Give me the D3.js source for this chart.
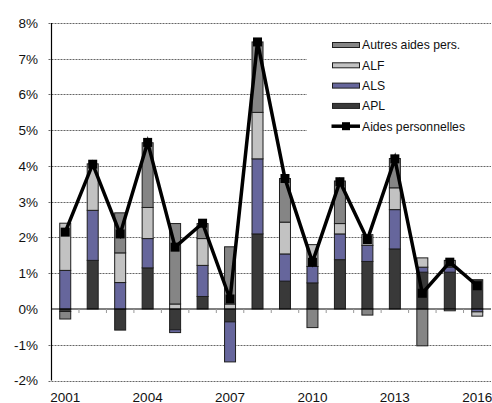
<!DOCTYPE html>
<html>
<head>
<meta charset="utf-8">
<script src="https://cdn.jsdelivr.net/npm/d3@7"></script>
<style>
  body { margin: 0; background: #fff; }
  svg { display: block; font-family: "Liberation Sans", Arial, sans-serif; }
</style>
</head>
<body>
<svg id="chart" width="492" height="403"></svg>
<script>
// values in % change
var years = [2001, 2002, 2003, 2004, 2005, 2006, 2007, 2008,
             2009, 2010, 2011, 2012, 2013, 2014, 2015, 2016];
var yearLabels = [2001, 2004, 2007, 2010, 2013, 2016];
var apl    = [-0.07, 1.36, -0.59, 1.15, -0.58, 0.35, -0.36, 2.10, 0.78, 0.73, 1.38, 1.33, 1.68, 1.03, 1.03, 0.82];
var als    = [1.08, 1.40, 0.74, 0.82, -0.08, 0.87, -1.12, 2.10, 0.76, 0.46, 0.72, 0.45, 1.10, 0.14, 0.14, -0.08];
var alf    = [1.32, 1.30, 0.83, 0.87, 0.14, 0.75, 0.14, 1.30, 0.89, 0.61, 0.29, 0.30, 0.61, 0.26, 0.19, -0.12];
var autres = [-0.21, 0.00, 1.12, 1.81, 2.25, 0.42, 1.60, 1.97, 1.22, -0.52, 1.19, -0.17, 0.82, -1.03, -0.05, 0.00];
var total  = [2.15, 4.05, 2.10, 4.66, 1.73, 2.40, 0.28, 7.47, 3.65, 1.31, 3.56, 1.94, 4.20, 0.44, 1.31, 0.65];
var yTicks = [-2, -1, 0, 1, 2, 3, 4, 5, 6, 7, 8];

var series = [
    {key: 'APL', values: apl, color: '#393939'},
    {key: 'ALS', values: als, color: '#66669c'},
    {key: 'ALF', values: alf, color: '#c2c2c2'},
    {key: 'Autres aides pers.', values: autres, color: '#858585'}
];

var svg = d3.select('#chart');
var plotLeft = 51.5, plotRight = 491, plotTop = 23, plotBottom = 380.5;

var x = d3.scaleBand()
    .domain(years)
    .range([plotLeft, plotRight])
    .paddingInner(0.6)
    .paddingOuter(0.3);

var y = d3.scaleLinear().domain([-2, 8]).range([plotBottom, plotTop]);

// gridlines
svg.append('g')
    .selectAll('line')
    .data(yTicks.filter(function(d){ return d !== 0; }))
    .enter().append('line')
    .attr('x1', plotLeft - 3).attr('x2', plotRight)
    .attr('y1', function(d){ return Math.round(y(d)) + 0.5; })
    .attr('y2', function(d){ return Math.round(y(d)) + 0.5; })
    .attr('stroke', '#666')
    .attr('stroke-dasharray', '2,1');

// y labels
svg.append('g')
    .selectAll('text')
    .data(yTicks)
    .enter().append('text')
    .attr('x', 38)
    .attr('y', function(d){ return y(d); })
    .attr('dy', '0.36em')
    .attr('text-anchor', 'end')
    .attr('font-size', '13.5px')
    .attr('fill', '#111')
    .text(function(d){ return d + '%'; });

// stacked bars, negatives stacked downward
var rows = years.map(function(yr, i) {
    var r = {year: yr};
    series.forEach(function(s){ r[s.key] = s.values[i]; });
    return r;
});

var stacked = d3.stack()
    .keys(series.map(function(s){ return s.key; }))
    .offset(d3.stackOffsetDiverging)(rows);

svg.append('g')
    .selectAll('g')
    .data(stacked)
    .enter().append('g')
    .attr('fill', function(d, i){ return series[i].color; })
    .selectAll('rect')
    .data(function(d){ return d; })
    .enter().append('rect')
    .attr('x', function(d){ return x(d.data.year); })
    .attr('width', x.bandwidth())
    .attr('y', function(d){ return y(Math.max(d[0], d[1])); })
    .attr('height', function(d){ return Math.abs(y(d[0]) - y(d[1])); })
    .attr('stroke', '#1e1e1e')
    .attr('stroke-width', 1)
    .attr('display', function(d){ return d[0] === d[1] ? 'none' : null; });

// axes
svg.append('line')
    .attr('x1', plotLeft).attr('x2', plotLeft)
    .attr('y1', plotTop).attr('y2', plotBottom)
    .attr('stroke', '#000').attr('stroke-width', 1.2);

svg.append('line')
    .attr('x1', plotLeft).attr('x2', plotRight)
    .attr('y1', y(0)).attr('y2', y(0))
    .attr('stroke', '#000').attr('stroke-width', 1.2);

var step = x.step();
svg.append('g')
    .selectAll('line')
    .data(years.slice(1))
    .enter().append('line')
    .attr('x1', function(d){ return x(d) + x.bandwidth() / 2 - step / 2; })
    .attr('x2', function(d){ return x(d) + x.bandwidth() / 2 - step / 2; })
    .attr('y1', y(0)).attr('y2', y(0) + 4)
    .attr('stroke', '#999');

svg.append('g')
    .selectAll('text')
    .data(yearLabels)
    .enter().append('text')
    .attr('x', function(d){ return x(d) + x.bandwidth() / 2; })
    .attr('y', 401.5)
    .attr('text-anchor', 'middle')
    .attr('font-size', '13.5px')
    .attr('fill', '#111')
    .text(function(d){ return d; });

// total line
var cx = function(d, i){ return x(years[i]) + x.bandwidth() / 2; };
var line = d3.line()
    .x(cx)
    .y(function(d){ return y(d); });

svg.append('path')
    .datum(total)
    .attr('d', line)
    .attr('fill', 'none')
    .attr('stroke', '#000')
    .attr('stroke-width', 3.5)
    .attr('stroke-linejoin', 'miter');

svg.append('g')
    .selectAll('rect')
    .data(total)
    .enter().append('rect')
    .attr('x', function(d, i){ return cx(d, i) - 4.5; })
    .attr('y', function(d){ return y(d) - 4.5; })
    .attr('width', 9).attr('height', 9)
    .attr('fill', '#000');

// legend
var legend = svg.append('g');
legend.append('rect')
    .attr('x', 307).attr('y', 30)
    .attr('width', 184).attr('height', 112)
    .attr('fill', '#fff');

var items = series.slice().reverse();
items.forEach(function(s, i) {
    var cy = 45 + i * 20.3;
    legend.append('rect')
        .attr('x', 332.5).attr('y', cy - 2.5)
        .attr('width', 27).attr('height', 5)
        .attr('fill', s.color)
        .attr('stroke', '#1e1e1e');
    legend.append('text')
        .attr('x', 362).attr('y', cy)
        .attr('dy', '0.36em')
        .attr('font-size', '12.2px')
        .attr('fill', '#111')
        .text(s.key);
});

var ly = 45 + 4 * 20.3;
legend.append('line')
    .attr('x1', 331.5).attr('x2', 360)
    .attr('y1', ly).attr('y2', ly)
    .attr('stroke', '#000').attr('stroke-width', 3.5);
legend.append('rect')
    .attr('x', 342).attr('y', ly - 4)
    .attr('width', 8).attr('height', 8)
    .attr('fill', '#000');
legend.append('text')
    .attr('x', 362).attr('y', ly)
    .attr('dy', '0.36em')
    .attr('font-size', '12.2px')
    .attr('fill', '#111')
    .text('Aides personnelles');
</script>
</body>
</html>
